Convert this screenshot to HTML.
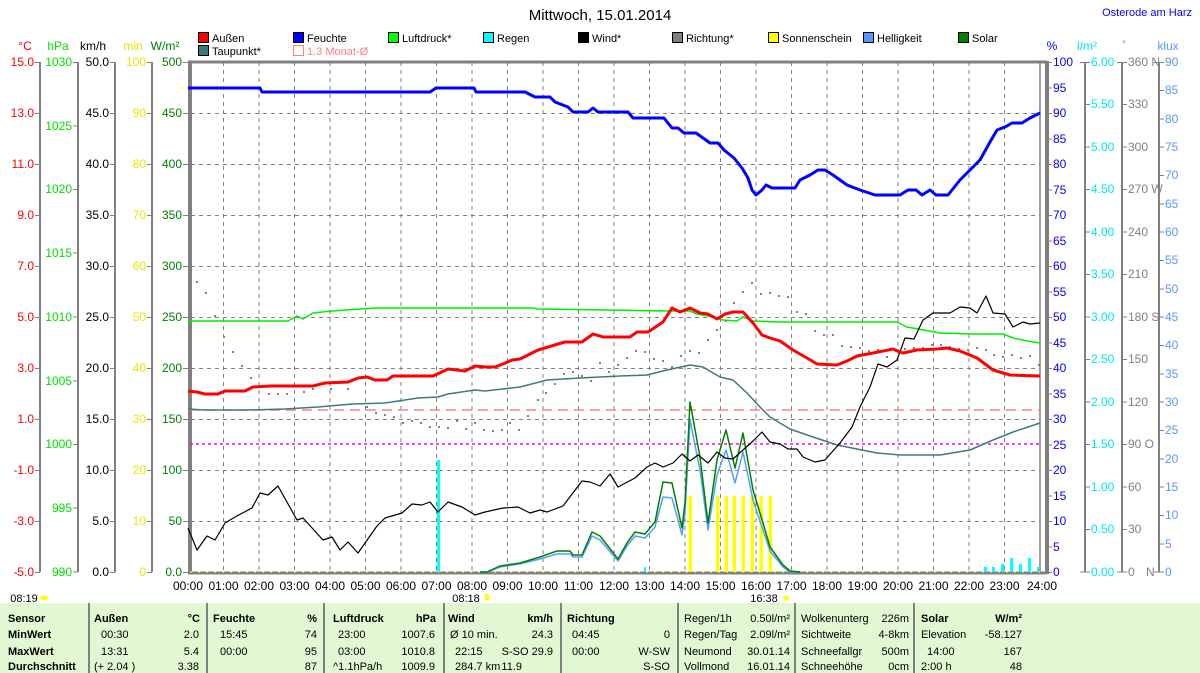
<!DOCTYPE html>
<html><head><meta charset="utf-8"><style>
html,body{margin:0;padding:0;background:#fff;}
body{width:1200px;height:673px;overflow:hidden;position:relative;font-family:"Liberation Sans",sans-serif;}
svg{position:absolute;left:0;top:0;}
svg text{font-family:"Liberation Sans",sans-serif;font-size:12px;}
svg .sm text{font-size:11px;}
</style></head><body>
<svg width="1200" height="673" viewBox="0 0 1200 673">
<text x="600" y="20" text-anchor="middle" style="font-size:15px">Mittwoch, 15.01.2014</text>
<text x="1192" y="16" text-anchor="end" fill="#0000ff" style="font-size:11px">Osterode am Harz</text>

<g stroke="#000" stroke-width="1">
<rect x="198.5" y="32.5" width="10" height="10" fill="#ff0000"/>
<rect x="293.5" y="32.5" width="10" height="10" fill="#0000ff"/>
<rect x="388.5" y="32.5" width="10" height="10" fill="#00ff00"/>
<rect x="483.5" y="32.5" width="10" height="10" fill="#00ffff"/>
<rect x="578.5" y="32.5" width="10" height="10" fill="#000000"/>
<rect x="672.5" y="32.5" width="10" height="10" fill="#808080"/>
<rect x="768.5" y="32.5" width="10" height="10" fill="#ffff00"/>
<rect x="863.5" y="32.5" width="10" height="10" fill="#5599ff"/>
<rect x="958.5" y="32.5" width="10" height="10" fill="#008000"/>
<rect x="198.5" y="45.5" width="10" height="10" fill="#3d7b7b"/>
</g>
<rect x="293.5" y="45.5" width="10" height="10" fill="none" stroke="#ff8080"/>
<g class="sm">
<text x="212" y="42">Außen</text>
<text x="307" y="42">Feuchte</text>
<text x="402" y="42">Luftdruck*</text>
<text x="497" y="42">Regen</text>
<text x="592" y="42">Wind*</text>
<text x="686" y="42">Richtung*</text>
<text x="782" y="42">Sonnenschein</text>
<text x="877" y="42">Helligkeit</text>
<text x="972" y="42">Solar</text>
<text x="212" y="55">Taupunkt*</text>
<text x="307" y="55" fill="#ff8080">1.3 Monat-Ø</text>
</g>

<text x="25" y="50" text-anchor="middle" fill="#ff0000">°C</text>
<text x="58" y="50" text-anchor="middle" fill="#00e000">hPa</text>
<text x="93" y="50" text-anchor="middle">km/h</text>
<text x="133" y="50" text-anchor="middle" fill="#e0e000">min</text>
<text x="165" y="50" text-anchor="middle" fill="#008000">W/m²</text>
<text x="1052" y="50" text-anchor="middle" fill="#0000ff">%</text>
<text x="1087" y="50" text-anchor="middle" fill="#00e8e8">l/m²</text>
<text x="1124" y="47" text-anchor="middle" fill="#808080" style="font-size:9px">°</text>
<text x="1168" y="50" text-anchor="middle" fill="#5599ff">klux</text>

<g stroke="#808080" stroke-width="1" stroke-dasharray="4,4" fill="none">
<path d="M223.5 62V572M259 62V572M294.5 62V572M330 62V572M365.5 62V572M401 62V572M436.5 62V572M472 62V572M507.5 62V572M543 62V572M578.5 62V572M614 62V572M649.5 62V572M685 62V572M720.5 62V572M756 62V572M791.5 62V572M827 62V572M862.5 62V572M898 62V572M933.5 62V572M969 62V572M1004.5 62V572"/>
<path d="M183 113.5H1040M183 164.5H1040M183 215.5H1040M183 266.5H1040M183 317.5H1040M183 368.5H1040M183 419.5H1040M183 470.5H1040M183 521.5H1040"/>
</g>

<g stroke="#808080" fill="none">
<path d="M40 62V572M78 62V572M115 62V572M152 62V572" stroke-width="2"/>
<path d="M1085 62V572M1122 62V572M1159 62V572" stroke-width="2"/>
<path d="M190 61V574" stroke-width="4"/>
<path d="M1047 61V574" stroke-width="4"/>
<path d="M1040 62V572" stroke-width="1.5"/>
<path d="M188 62H1047" stroke-width="3"/>
<path d="M188 573H1047" stroke-width="3"/>
<path d="M35 62.5h5M35 113.5h5M35 164.5h5M35 215.5h5M35 266.5h5M35 317.5h5M35 368.5h5M35 419.5h5M35 470.5h5M35 521.5h5M35 572.5h5"/>
<path d="M73 62.5h5M73 126h5M73 189.5h5M73 253h5M73 317h5M73 381h5M73 444.5h5M73 508h5M73 572h5"/>
<path d="M110 62.5h5M110 113.5h5M110 164.5h5M110 215.5h5M110 266.5h5M110 317.5h5M110 368.5h5M110 419.5h5M110 470.5h5M110 521.5h5M110 572.5h5"/>
<path d="M147 62.5h5M147 113.5h5M147 164.5h5M147 215.5h5M147 266.5h5M147 317.5h5M147 368.5h5M147 419.5h5M147 470.5h5M147 521.5h5M147 572.5h5"/>
<path d="M183 62.5h5M183 113.5h5M183 164.5h5M183 215.5h5M183 266.5h5M183 317.5h5M183 368.5h5M183 419.5h5M183 470.5h5M183 521.5h5M183 572.5h5"/>
<path d="M1047 62.5h5M1047 88h5M1047 113.5h5M1047 139h5M1047 164.5h5M1047 190h5M1047 215.5h5M1047 241h5M1047 266.5h5M1047 292h5M1047 317.5h5M1047 343h5M1047 368.5h5M1047 394h5M1047 419.5h5M1047 445h5M1047 470.5h5M1047 496h5M1047 521.5h5M1047 547h5M1047 572.5h5"/>
<path d="M1080 62.5h10M1085 104.5h5M1085 147h5M1085 189.5h5M1085 232h5M1085 274.5h5M1085 317h5M1085 359.5h5M1085 402h5M1085 444.5h5M1085 487h5M1085 529.5h5M1080 572h10"/>
<path d="M1117 62.5h10M1122 104.5h5M1122 147h5M1122 189.5h5M1122 232h5M1122 274.5h5M1122 317h5M1122 359.5h5M1122 402h5M1122 444.5h5M1122 487h5M1122 529.5h5M1117 572h10"/>
<path d="M1154 62.5h10M1159 90.5h5M1159 119h5M1159 147h5M1159 175.5h5M1159 204h5M1159 232h5M1159 260.5h5M1159 289h5M1159 317h5M1159 345.5h5M1159 374h5M1159 402h5M1159 430.5h5M1159 459h5M1159 487h5M1159 515.5h5M1159 544h5M1154 572h10"/>
</g>

<g text-anchor="end" fill="#ff0000">
<text x="34" y="66">15.0</text><text x="34" y="117">13.0</text><text x="34" y="168">11.0</text><text x="34" y="219">9.0</text><text x="34" y="270">7.0</text><text x="34" y="321">5.0</text><text x="34" y="372">3.0</text><text x="34" y="423">1.0</text><text x="34" y="474">-1.0</text><text x="34" y="525">-3.0</text><text x="34" y="576">-5.0</text>
</g>
<g text-anchor="end" fill="#00e000">
<text x="72" y="66">1030</text><text x="72" y="130">1025</text><text x="72" y="193">1020</text><text x="72" y="257">1015</text><text x="72" y="321">1010</text><text x="72" y="385">1005</text><text x="72" y="448">1000</text><text x="72" y="512">995</text><text x="72" y="576">990</text>
</g>
<g text-anchor="end" fill="#000">
<text x="109" y="66">50.0</text><text x="109" y="117">45.0</text><text x="109" y="168">40.0</text><text x="109" y="219">35.0</text><text x="109" y="270">30.0</text><text x="109" y="321">25.0</text><text x="109" y="372">20.0</text><text x="109" y="423">15.0</text><text x="109" y="474">10.0</text><text x="109" y="525">5.0</text><text x="109" y="576">0.0</text>
</g>
<g text-anchor="end" fill="#e8e800">
<text x="146" y="66">100</text><text x="146" y="117">90</text><text x="146" y="168">80</text><text x="146" y="219">70</text><text x="146" y="270">60</text><text x="146" y="321">50</text><text x="146" y="372">40</text><text x="146" y="423">30</text><text x="146" y="474">20</text><text x="146" y="525">10</text><text x="146" y="576">0</text>
</g>
<g text-anchor="end" fill="#008000">
<text x="182" y="66">500</text><text x="182" y="117">450</text><text x="182" y="168">400</text><text x="182" y="219">350</text><text x="182" y="270">300</text><text x="182" y="321">250</text><text x="182" y="372">200</text><text x="182" y="423">150</text><text x="182" y="474">100</text><text x="182" y="525">50</text><text x="182" y="576">0.0</text>
</g>

<g fill="#0000ff">
<text x="1053" y="66">100</text><text x="1053" y="92">95</text><text x="1053" y="117">90</text><text x="1053" y="143">85</text><text x="1053" y="168">80</text><text x="1053" y="194">75</text><text x="1053" y="219">70</text><text x="1053" y="245">65</text><text x="1053" y="270">60</text><text x="1053" y="296">55</text><text x="1053" y="321">50</text><text x="1053" y="347">45</text><text x="1053" y="372">40</text><text x="1053" y="398">35</text><text x="1053" y="423">30</text><text x="1053" y="449">25</text><text x="1053" y="474">20</text><text x="1053" y="500">15</text><text x="1053" y="525">10</text><text x="1053" y="551">5</text><text x="1053" y="576">0</text>
</g>
<g fill="#00e8e8">
<text x="1091" y="66">6.00</text><text x="1091" y="108">5.50</text><text x="1091" y="151">5.00</text><text x="1091" y="193">4.50</text><text x="1091" y="236">4.00</text><text x="1091" y="278">3.50</text><text x="1091" y="321">3.00</text><text x="1091" y="363">2.50</text><text x="1091" y="406">2.00</text><text x="1091" y="448">1.50</text><text x="1091" y="491">1.00</text><text x="1091" y="533">0.50</text><text x="1091" y="576">0.00</text>
</g>
<g fill="#808080">
<text x="1128" y="66">360 N</text><text x="1128" y="108">330</text><text x="1128" y="151">300</text><text x="1128" y="193">270 W</text><text x="1128" y="236">240</text><text x="1128" y="278">210</text><text x="1128" y="321">180 S</text><text x="1128" y="363">150</text><text x="1128" y="406">120</text><text x="1128" y="448">90  O</text><text x="1128" y="491">60</text><text x="1128" y="533">30</text><text x="1128" y="576">0</text><text x="1146" y="576">N</text>
</g>
<g fill="#5599ff">
<text x="1165" y="66">90</text><text x="1165" y="94">85</text><text x="1165" y="123">80</text><text x="1165" y="151">75</text><text x="1165" y="179">70</text><text x="1165" y="208">65</text><text x="1165" y="236">60</text><text x="1165" y="264">55</text><text x="1165" y="293">50</text><text x="1165" y="321">45</text><text x="1165" y="349">40</text><text x="1165" y="378">35</text><text x="1165" y="406">30</text><text x="1165" y="434">25</text><text x="1165" y="463">20</text><text x="1165" y="491">15</text><text x="1165" y="519">10</text><text x="1165" y="548">5</text><text x="1165" y="576">0</text>
</g>

<g text-anchor="middle">
<text x="188" y="590">00:00</text><text x="223.5" y="590">01:00</text><text x="259" y="590">02:00</text><text x="294.5" y="590">03:00</text><text x="330" y="590">04:00</text><text x="365.5" y="590">05:00</text><text x="401" y="590">06:00</text><text x="436.5" y="590">07:00</text><text x="472" y="590">08:00</text><text x="507.5" y="590">09:00</text><text x="543" y="590">10:00</text><text x="578.5" y="590">11:00</text><text x="614" y="590">12:00</text><text x="649.5" y="590">13:00</text><text x="685" y="590">14:00</text><text x="720.5" y="590">15:00</text><text x="756" y="590">16:00</text><text x="791.5" y="590">17:00</text><text x="827" y="590">18:00</text><text x="862.5" y="590">19:00</text><text x="898" y="590">20:00</text><text x="933.5" y="590">21:00</text><text x="969" y="590">22:00</text><text x="1004.5" y="590">23:00</text><text x="1042" y="590">24:00</text>
<text x="24" y="602" style="font-size:11px">08:19</text>
<text x="466" y="602" style="font-size:11px">08:18</text>
<text x="764" y="602" style="font-size:11px">16:38</text>
</g>
<g fill="#ffff00"><ellipse cx="44" cy="598" rx="4" ry="2.5"/><rect x="485" y="594" width="4" height="6"/><ellipse cx="786" cy="598" rx="3" ry="2.5"/></g>

<path d="M190 410H1040" stroke="#ff8080" stroke-width="1.5" stroke-dasharray="10,6"/>
<path d="M190 444H1040" stroke="#ff00ff" stroke-width="1.5" stroke-dasharray="3,3"/>
<path d="M190 572H1040" stroke="#ffff00" stroke-width="1" stroke-dasharray="2,6"/>

<g fill="#00ffff">
<rect x="437" y="460" width="3" height="112"/>
<rect x="644" y="567" width="2" height="5"/>
<rect x="984" y="567" width="3" height="5"/><rect x="992" y="567" width="3" height="5"/><rect x="1001" y="564" width="3" height="8"/><rect x="1010" y="558" width="3" height="14"/><rect x="1019" y="564" width="3" height="8"/><rect x="1028" y="558" width="3" height="14"/><rect x="1037" y="567" width="2" height="5"/>
</g>

<g fill="#ffff00">
<rect x="688.5" y="496" width="3.5" height="76"/><rect x="716" y="496" width="3.5" height="76"/><rect x="724.5" y="496" width="3.5" height="76"/><rect x="732.5" y="496" width="3.5" height="76"/><rect x="741.5" y="496" width="3.5" height="76"/><rect x="750.5" y="496" width="3.5" height="76"/><rect x="759.5" y="496" width="3.5" height="76"/><rect x="768.5" y="496" width="3.5" height="76"/>
</g>

<g fill="#808080">
<rect x="196" y="281" width="2" height="2"/><rect x="205" y="292" width="2" height="2"/><rect x="214" y="315" width="2" height="2"/><rect x="223" y="336" width="2" height="2"/><rect x="232" y="351" width="2" height="2"/><rect x="241" y="365" width="2" height="2"/><rect x="250" y="377" width="2" height="2"/><rect x="268" y="393" width="2" height="2"/><rect x="277" y="393" width="2" height="2"/><rect x="286" y="393" width="2" height="2"/><rect x="303" y="391" width="2" height="2"/><rect x="312" y="388" width="2" height="2"/><rect x="330" y="388" width="2" height="2"/><rect x="347" y="388" width="2" height="2"/><rect x="366" y="406" width="2" height="2"/><rect x="375" y="412" width="2" height="2"/><rect x="384" y="414" width="2" height="2"/><rect x="393" y="416" width="2" height="2"/><rect x="402" y="422" width="2" height="2"/><rect x="411" y="420" width="2" height="2"/><rect x="420" y="422" width="2" height="2"/><rect x="429" y="426" width="2" height="2"/><rect x="438" y="426" width="2" height="2"/><rect x="447" y="427" width="2" height="2"/><rect x="456" y="420" width="2" height="2"/><rect x="465" y="428" width="2" height="2"/><rect x="474" y="422" width="2" height="2"/><rect x="483" y="429" width="2" height="2"/><rect x="492" y="430" width="2" height="2"/><rect x="501" y="429" width="2" height="2"/><rect x="509" y="422" width="2" height="2"/><rect x="518" y="429" width="2" height="2"/><rect x="527" y="415" width="2" height="2"/><rect x="537" y="399" width="2" height="2"/><rect x="545" y="392" width="2" height="2"/><rect x="554" y="383" width="2" height="2"/><rect x="563" y="373" width="2" height="2"/><rect x="572" y="371" width="2" height="2"/><rect x="581" y="375" width="2" height="2"/><rect x="590" y="380" width="2" height="2"/><rect x="599" y="362" width="2" height="2"/><rect x="608" y="371" width="2" height="2"/><rect x="617" y="364" width="2" height="2"/><rect x="626" y="357" width="2" height="2"/><rect x="635" y="350" width="2" height="2"/><rect x="644" y="351" width="2" height="2"/><rect x="653" y="358" width="2" height="2"/><rect x="662" y="360" width="2" height="2"/><rect x="671" y="366" width="2" height="2"/><rect x="680" y="355" width="2" height="2"/><rect x="689" y="350" width="2" height="2"/><rect x="698" y="352" width="2" height="2"/><rect x="707" y="339" width="2" height="2"/><rect x="716" y="329" width="2" height="2"/><rect x="725" y="320" width="2" height="2"/><rect x="733" y="302" width="2" height="2"/><rect x="742" y="291" width="2" height="2"/><rect x="751" y="282" width="2" height="2"/><rect x="760" y="293" width="2" height="2"/><rect x="769" y="292" width="2" height="2"/><rect x="778" y="295" width="2" height="2"/><rect x="787" y="296" width="2" height="2"/><rect x="796" y="311" width="2" height="2"/><rect x="805" y="313" width="2" height="2"/><rect x="814" y="330" width="2" height="2"/><rect x="823" y="334" width="2" height="2"/><rect x="832" y="334" width="2" height="2"/><rect x="841" y="345" width="2" height="2"/><rect x="850" y="346" width="2" height="2"/><rect x="859" y="347" width="2" height="2"/><rect x="868" y="350" width="2" height="2"/><rect x="877" y="349" width="2" height="2"/><rect x="886" y="356" width="2" height="2"/><rect x="895" y="350" width="2" height="2"/><rect x="904" y="348" width="2" height="2"/><rect x="913" y="347" width="2" height="2"/><rect x="922" y="347" width="2" height="2"/><rect x="931" y="344" width="2" height="2"/><rect x="940" y="344" width="2" height="2"/><rect x="949" y="346" width="2" height="2"/><rect x="958" y="348" width="2" height="2"/><rect x="967" y="349" width="2" height="2"/><rect x="976" y="347" width="2" height="2"/><rect x="985" y="349" width="2" height="2"/><rect x="993" y="354" width="2" height="2"/><rect x="1002" y="356" width="2" height="2"/><rect x="1011" y="354" width="2" height="2"/><rect x="1020" y="357" width="2" height="2"/><rect x="1029" y="355" width="2" height="2"/><rect x="1038" y="364" width="2" height="2"/>
</g>

<g fill="none" stroke-linejoin="round">
<polyline stroke="#55a0ff" stroke-width="1.5" points="480,572 487,572 500,567 520,564 540,559 557,554 570,554 573,557 582,557 592,536 600,540 618,561 627,546 635,536 645,538 655,527 663,497 672,498 682,535 685,513 690,420 700,470 708,530 717,475 726,450 735,483 743,452 753,500 763,530 770,551 783,567 790,572 800,572"/>
<polyline stroke="#008000" stroke-width="1.5" points="480,572 487,572 500,566 520,563 540,557 557,551 570,551 573,555 582,555 592,532 600,536 618,559 627,543 635,532 645,534 655,522 663,482 672,483 682,528 685,503 690,402 700,457 708,523 717,460 726,430 735,468 743,433 753,490 763,523 770,547 783,565 790,571 800,572"/>
<polyline stroke="#3d7b7b" stroke-width="1.5" points="188,409 205,410 248,410 285,409 318,407 352,404 385,403 418,398 438,397 448,394 475,390 485,391 520,387 547,380 580,378 620,376 647,375 667,370 690,365 703,367 720,377 733,380 747,393 760,407 770,417 790,429 813,437 837,445 877,453 900,455 940,455 970,450 993,440 1013,432 1040,423"/>
<polyline stroke="#00ee00" stroke-width="1.5" points="188,321 288,321 297,316 303,319 313,313 332,311 375,308 533,308 537,309 607,310 667,311 690,311 697,314 713,317 723,320 737,321 743,317 753,321 780,322 833,322 897,322 907,327 940,333 973,334 1003,334 1013,338 1027,341 1040,343"/>
<polyline stroke="#000" stroke-width="1.2" points="188,528 197,550 207,536 215,540 225,523 235,517 252,508 260,493 268,495 278,486 297,520 303,518 323,540 332,537 340,550 348,542 358,553 377,526 385,518 402,513 412,504 422,505 430,502 438,512 448,502 462,507 475,515 485,512 503,508 518,507 530,513 540,510 547,512 563,506 582,481 590,482 600,486 610,474 618,487 635,478 647,467 655,463 663,467 673,463 682,454 690,461 698,455 708,463 717,452 725,458 733,459 743,450 753,441 762,432 770,442 780,444 788,449 797,449 803,457 815,462 825,460 840,443 852,427 860,407 870,387 878,364 887,367 897,360 905,338 914,339 923,320 933,313 950,313 960,307 970,308 977,313 986,296 993,313 1005,314 1013,327 1023,322 1030,324 1040,323"/>
<polyline stroke="#ff0000" stroke-width="3" points="188,391 197,392 205,394 218,394 225,391 245,391 253,387 270,386 313,386 325,383 348,382 358,378 367,377 375,380 387,380 393,376 433,376 448,369 465,371 475,366 485,367 495,367 503,364 512,360 520,359 538,350 565,342 582,342 593,334 603,337 630,337 637,332 648,332 663,322 672,308 680,312 690,308 700,313 708,314 717,319 725,314 733,312 743,312 753,323 762,335 770,338 780,341 793,350 807,358 817,364 837,365 847,361 857,356 873,353 893,349 903,353 917,350 937,349 947,348 960,351 977,358 993,370 1010,375 1040,376"/>
<polyline stroke="#0000ff" stroke-width="3" points="188,88 260,88 262,92 430,92 436,88 474,88 476,92 525,92 535,97 550,97 555,102 568,107 573,112 588,112 593,108 598,112 628,112 633,118 664,118 672,128 678,128 684,133 696,133 703,138 710,143 718,143 724,150 734,158 742,168 748,178 752,190 756,195 762,190 766,185 772,188 795,188 800,180 810,175 818,170 825,170 833,175 840,180 847,185 860,190 875,195 900,195 908,190 916,190 922,195 930,190 936,195 948,195 960,180 970,170 980,160 990,142 997,130 1005,127 1012,123 1022,123 1030,118 1040,113"/>
</g>

<rect x="0" y="603" width="1200" height="70" fill="#e2f8d2"/>
<g stroke="#808080" stroke-width="2">
<path d="M89 603V673M207 603V673M324 603V673M444 603V673M561 603V673M678 603V673M795 603V673M914 603V673"/>
</g>
<g class="sm">
<g font-weight="bold">
<text x="8" y="622">Sensor</text><text x="8" y="638">MinWert</text><text x="8" y="655">MaxWert</text><text x="8" y="670">Durchschnitt</text>
<text x="94" y="622">Außen</text><text x="200" y="622" text-anchor="end">°C</text>
<text x="213" y="622">Feuchte</text><text x="317" y="622" text-anchor="end">%</text>
<text x="333" y="622">Luftdruck</text><text x="436" y="622" text-anchor="end">hPa</text>
<text x="448" y="622">Wind</text><text x="553" y="622" text-anchor="end">km/h</text>
<text x="567" y="622">Richtung</text>
<text x="921" y="622">Solar</text><text x="1022" y="622" text-anchor="end">W/m²</text>
</g>
<text x="101" y="638">00:30</text><text x="199" y="638" text-anchor="end">2.0</text>
<text x="101" y="655">13:31</text><text x="199" y="655" text-anchor="end">5.4</text>
<text x="94" y="670">(+ 2.04 )</text><text x="199" y="670" text-anchor="end">3.38</text>
<text x="220" y="638">15:45</text><text x="317" y="638" text-anchor="end">74</text>
<text x="220" y="655">00:00</text><text x="317" y="655" text-anchor="end">95</text>
<text x="317" y="670" text-anchor="end">87</text>
<text x="338" y="638">23:00</text><text x="435" y="638" text-anchor="end">1007.6</text>
<text x="338" y="655">03:00</text><text x="435" y="655" text-anchor="end">1010.8</text>
<text x="333" y="670">^1.1hPa/h</text><text x="435" y="670" text-anchor="end">1009.9</text>
<text x="450" y="638">Ø 10 min.</text><text x="553" y="638" text-anchor="end">24.3</text>
<text x="455" y="655">22:15</text><text x="553" y="655" text-anchor="end">S-SO 29.9</text>
<text x="455" y="670">284.7 km</text><text x="522" y="670" text-anchor="end">11.9</text>
<text x="572" y="638">04:45</text><text x="670" y="638" text-anchor="end">0</text>
<text x="572" y="655">00:00</text><text x="670" y="655" text-anchor="end">W-SW</text>
<text x="670" y="670" text-anchor="end">S-SO</text>
<text x="684" y="622">Regen/1h</text><text x="790" y="622" text-anchor="end">0.50l/m²</text>
<text x="684" y="638">Regen/Tag</text><text x="790" y="638" text-anchor="end">2.09l/m²</text>
<text x="684" y="655">Neumond</text><text x="790" y="655" text-anchor="end">30.01.14</text>
<text x="684" y="670">Vollmond</text><text x="790" y="670" text-anchor="end">16.01.14</text>
<text x="801" y="622">Wolkenunterg</text><text x="909" y="622" text-anchor="end">226m</text>
<text x="801" y="638">Sichtweite</text><text x="909" y="638" text-anchor="end">4-8km</text>
<text x="801" y="655">Schneefallgr</text><text x="909" y="655" text-anchor="end">500m</text>
<text x="801" y="670">Schneehöhe</text><text x="909" y="670" text-anchor="end">0cm</text>
<text x="921" y="638">Elevation</text><text x="1022" y="638" text-anchor="end">-58.127</text>
<text x="927" y="655">14:00</text><text x="1022" y="655" text-anchor="end">167</text>
<text x="921" y="670">2:00 h</text><text x="1022" y="670" text-anchor="end">48</text>
</g>
</svg>
</body></html>
